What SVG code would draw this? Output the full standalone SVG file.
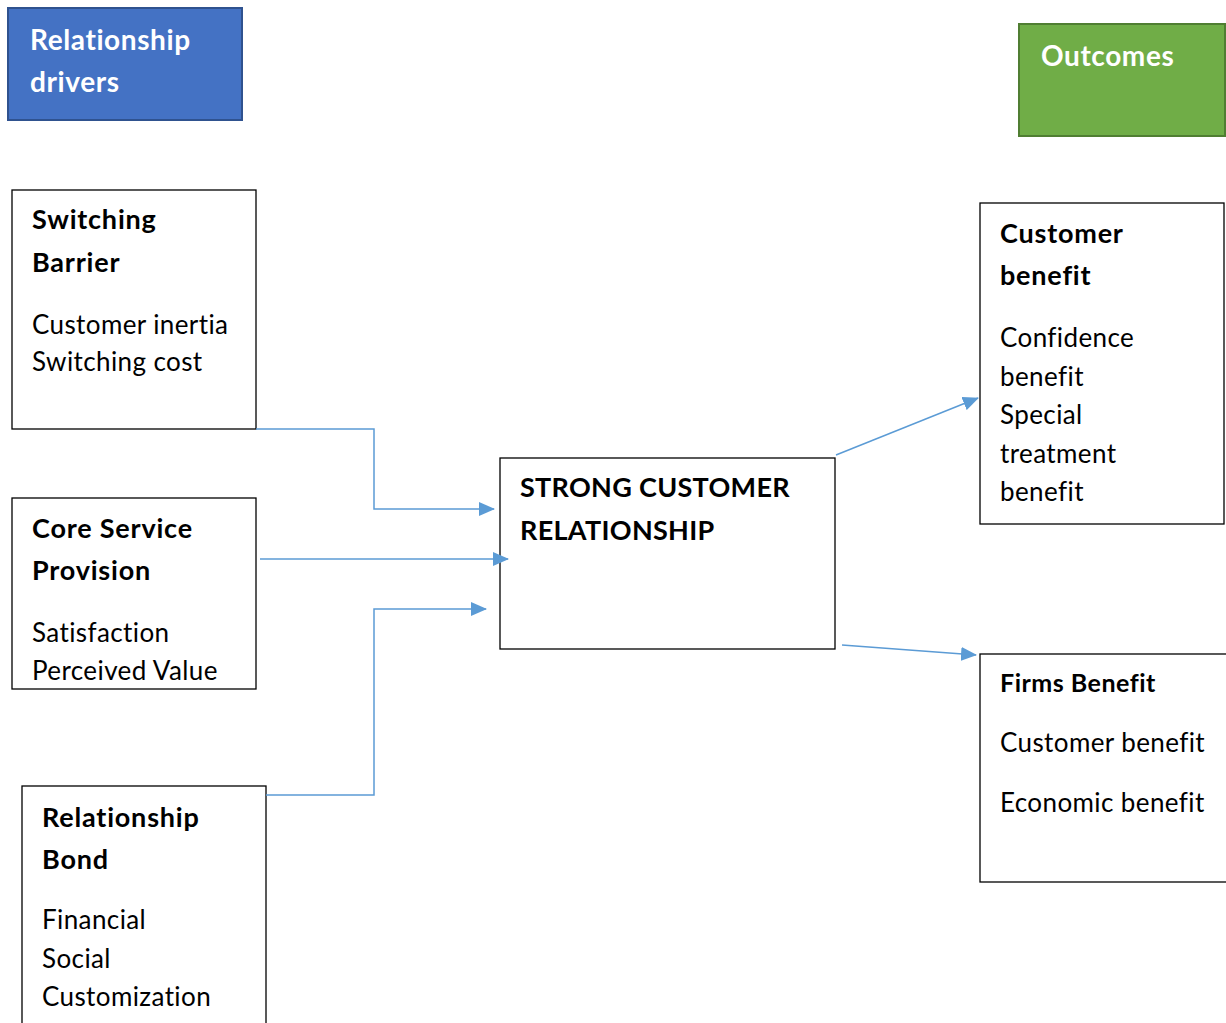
<svg xmlns="http://www.w3.org/2000/svg" width="1226" height="1023" viewBox="0 0 1226 1023">
<defs>
<marker id="arr" markerUnits="userSpaceOnUse" markerWidth="16" markerHeight="14" refX="15" refY="7" orient="auto">
<path d="M0,0 L16,7 L0,14 Z" fill="#5B9BD5"/>
</marker>
<style>
.box{fill:#fff;stroke:#000;stroke-width:1.3}
.t{font-family:Lato,"Open Sans","Liberation Sans",sans-serif;font-size:26px;fill:#000;font-variant-ligatures:none;letter-spacing:0.4px}
.b{font-weight:bold;font-size:27px;letter-spacing:0.8px}
.w{fill:#fff;font-weight:bold;font-size:28px;letter-spacing:0.6px}
.c{fill:none;stroke:#5B9BD5;stroke-width:1.5}
</style>
</defs>
<rect width="1226" height="1023" fill="#fff"/>
<g id="drivers">
<rect x="8" y="8" width="234" height="112" fill="#4472C4" stroke="#2F528F" stroke-width="2"/>
<text class="t w" x="30" y="50">Relationship</text>
<text class="t w" x="30" y="92">drivers</text>
</g>
<g id="outcomes">
<rect x="1019" y="24" width="206" height="112" fill="#70AD47" stroke="#507E32" stroke-width="2"/>
<text class="t w" x="1041" y="66">Outcomes</text>
</g>
<g id="switching">
<rect class="box" x="12" y="190" width="244" height="239"/>
<text class="t b" x="32" y="229">Switching</text>
<text class="t b" x="32" y="272">Barrier</text>
<text class="t" x="32" y="334">Customer inertia</text>
<text class="t" x="32" y="371">Switching cost</text>
</g>
<g id="core">
<rect class="box" x="12" y="498" width="244" height="191"/>
<text class="t b" x="32" y="538">Core Service</text>
<text class="t b" x="32" y="580">Provision</text>
<text class="t" x="32" y="642">Satisfaction</text>
<text class="t" x="32" y="680">Perceived Value</text>
</g>
<g id="bond">
<rect class="box" x="22" y="786" width="244" height="245"/>
<text class="t b" x="42" y="827">Relationship</text>
<text class="t b" x="42" y="869">Bond</text>
<text class="t" x="42" y="929">Financial</text>
<text class="t" x="42" y="968">Social</text>
<text class="t" x="42" y="1006">Customization</text>
</g>
<g id="strong">
<rect class="box" x="500" y="458" width="335" height="191"/>
<text class="t b" x="520" y="497" style="letter-spacing:0.3px">STRONG CUSTOMER</text>
<text class="t b" x="520" y="540" style="letter-spacing:0.3px">RELATIONSHIP</text>
</g>
<g id="custbenefit">
<rect class="box" x="980" y="203" width="244" height="321"/>
<text class="t b" x="1000" y="243">Customer</text>
<text class="t b" x="1000" y="285">benefit</text>
<text class="t" x="1000" y="347">Confidence</text>
<text class="t" x="1000" y="386">benefit</text>
<text class="t" x="1000" y="424">Special</text>
<text class="t" x="1000" y="463">treatment</text>
<text class="t" x="1000" y="501">benefit</text>
</g>
<g id="firms">
<rect class="box" x="980" y="654" width="250" height="228"/>
<text class="t b" x="1000" y="692" style="font-size:25px;letter-spacing:0.5px">Firms Benefit</text>
<text class="t" x="1000" y="752">Customer benefit</text>
<text class="t" x="1000" y="812">Economic benefit</text>
</g>
<g id="connectors">
<path class="c" d="M256,429 H374 V509 H494" marker-end="url(#arr)"/>
<path class="c" d="M260,559 H508" marker-end="url(#arr)"/>
<path class="c" d="M266,795 H374 V609 H486" marker-end="url(#arr)"/>
<path class="c" d="M836,455 L978,398" marker-end="url(#arr)"/>
<path class="c" d="M842,645 L976,655" marker-end="url(#arr)"/>
</g>
</svg>
